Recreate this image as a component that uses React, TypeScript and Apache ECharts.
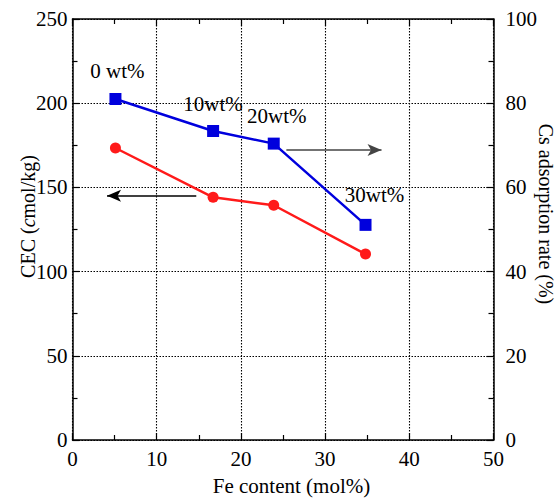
import React, { useEffect, useRef } from "react";
import * as echarts from "echarts";

const feContent = [5.1, 16.7, 23.9, 34.8];
const cecValues = [173.4, 144.1, 139.4, 110.4];
const csFe = [5.1, 16.7, 23.9, 34.8];
const csRate = [81.0, 73.4, 70.4, 51.1];
const pointLabels = ["0 wt%", "10wt%", "20wt%", "30wt%"];
const leftArrow = [[14.7, 145], [4.1, 145]];
const rightArrow = [[25.4, 68.9], [36.7, 68.9]];

const FONT = "Liberation Serif, Times New Roman, serif";

const mkAxisLine = () => ({ show: true, onZero: false, lineStyle: { color: "#000", width: 1.5 } });
const mkTick = () => ({ show: true, inside: true, length: 7, lineStyle: { color: "#000", width: 1.2 } });
const mkMinor = () => ({ show: true, splitNumber: 2, length: 5, lineStyle: { color: "#000", width: 1.2 } });
const mkGrid = () => ({ show: true, lineStyle: { color: "#000", type: [1.5, 1.5], width: 1.1 } });

export default function App() {
  const ref = useRef<HTMLDivElement>(null);
  useEffect(() => {
    if (!ref.current) return;
    const chart = echarts.init(ref.current, undefined, { renderer: "svg" });
    const labelStyle = () => ({ color: "#000", fontSize: 21, fontFamily: FONT });
    const labelOffsets = [[2, -1], [0, 0], [3, -1], [9, -3]];
    chart.setOption({
      animation: false,
      backgroundColor: "#fff",
      grid: { left: 72.5, right: 65.5, top: 19, bottom: 59, containLabel: false },
      xAxis: [
        {
          type: "value", position: "bottom", min: 0, max: 50, interval: 10,
          axisLine: mkAxisLine(), axisTick: mkTick(), minorTick: mkMinor(),
          axisLabel: { ...labelStyle(), margin: 8 },
          splitLine: mkGrid(),
        },
        {
          type: "value", position: "top", min: 0, max: 50, interval: 10,
          axisLine: mkAxisLine(), axisTick: mkTick(), minorTick: mkMinor(),
          axisLabel: { show: false }, splitLine: { show: false },
        },
      ],
      yAxis: [
        {
          type: "value", position: "left", min: 0, max: 250, interval: 50,
          axisLine: mkAxisLine(), axisTick: mkTick(), minorTick: mkMinor(),
          axisLabel: { ...labelStyle(), margin: 5 },
          splitLine: mkGrid(),
        },
        {
          type: "value", position: "right", min: 0, max: 100, interval: 20,
          axisLine: mkAxisLine(), axisTick: mkTick(), minorTick: mkMinor(),
          axisLabel: { ...labelStyle(), margin: 12 },
          splitLine: { show: false },
        },
      ],
      graphic: [
        {
          type: "text", x: 28, y: 216.5, rotation: Math.PI / 2,
          style: {
            text: "CEC ({i|c}mol/kg)", fontSize: 20, fontFamily: FONT, fill: "#000",
            align: "center", verticalAlign: "middle",
            rich: { i: { fontStyle: "italic", fontSize: 20, fontFamily: FONT } },
          },
        },
        {
          type: "text", x: 546, y: 214, rotation: -Math.PI / 2,
          style: {
            text: "Cs adsorption rate (%)", fontSize: 20, fontFamily: FONT, fill: "#000",
            align: "center", verticalAlign: "middle",
          },
        },
        {
          type: "text", x: 291.5, y: 486,
          style: {
            text: "Fe content (mol%)", fontSize: 21, fontFamily: FONT, fill: "#000",
            align: "center", verticalAlign: "middle",
          },
        },
      ],
      series: [
        {
          type: "line", xAxisIndex: 0, yAxisIndex: 0,
          data: feContent.map((x, i) => [x, cecValues[i]]),
          symbol: "circle", symbolSize: 11,
          itemStyle: { color: "#ff1a1a" },
          lineStyle: { color: "#ff1a1a", width: 2.5 },
          z: 3,
          markLine: {
            silent: true, symbol: ["none", "arrow"], symbolSize: [9, 14],
            label: { show: false },
            lineStyle: { color: "#000", width: 1.5, type: "solid" },
            data: [[{ coord: leftArrow[0] }, { coord: leftArrow[1] }]],
          },
        },
        {
          type: "line", xAxisIndex: 0, yAxisIndex: 1,
          data: csFe.map((x, i) => ({
            value: [x, csRate[i]],
            label: {
              show: true, formatter: pointLabels[i], position: "top", distance: 10,
              offset: labelOffsets[i], color: "#000", fontSize: 21, fontFamily: FONT,
            },
          })),
          symbol: "rect", symbolSize: 12,
          itemStyle: { color: "#0000dd" },
          lineStyle: { color: "#0000dd", width: 2.5 },
          z: 4,
          markLine: {
            silent: true, symbol: ["none", "arrow"], symbolSize: [9, 14],
            label: { show: false },
            lineStyle: { color: "#444", width: 1.5, type: "solid" },
            data: [[{ coord: rightArrow[0] }, { coord: rightArrow[1] }]],
          },
        },
      ],
    });
    return () => chart.dispose();
  }, []);
  return <div ref={ref} style={{ width: 559, height: 499, position: "absolute", left: 0, top: 0 }} />;
}
